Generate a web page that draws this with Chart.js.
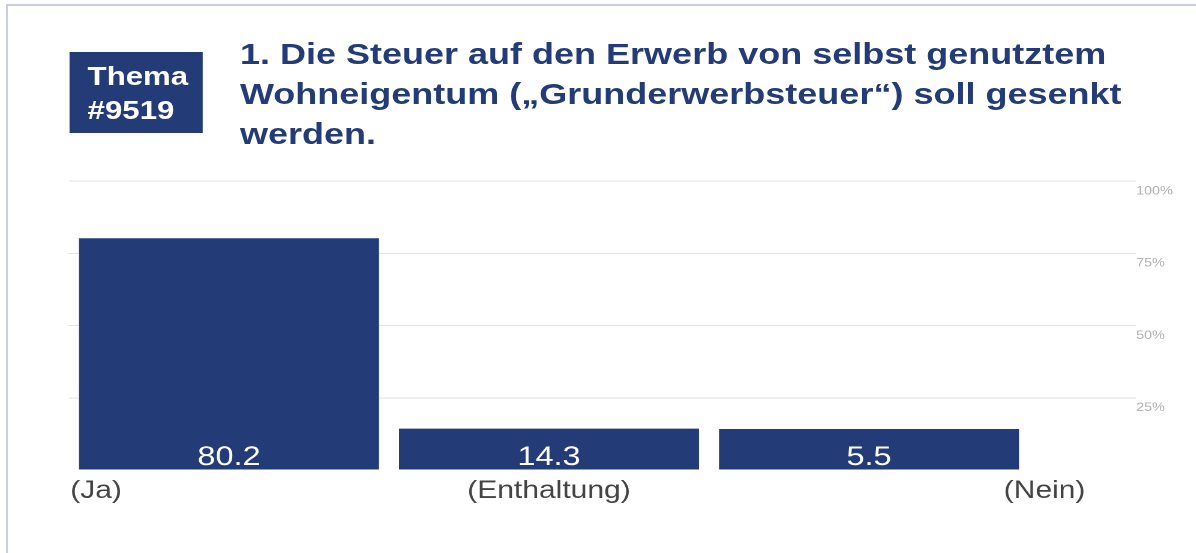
<!DOCTYPE html>
<html lang="de">
<head>
<meta charset="utf-8">
<script src="https://cdn.jsdelivr.net/npm/chart.js@4"></script>
<style>
  html, body { margin: 0; padding: 0; background: #fff; }
  body { width: 1196px; height: 553px; overflow: hidden; position: relative; font-family: "Liberation Sans", Arial, sans-serif; }
  .frame { position: absolute; left: 6px; top: 4px; right: 0; bottom: 0; border-left: 2px solid #c9cce2; border-top: 2px solid #c9cce2; }
  /* the reference is stretched horizontally, so everything sits in a scaled box */
  .stage { position: absolute; left: 0; top: 0; width: 997px; height: 553px; transform: scaleX(1.2); transform-origin: 0 0; }
  .badge { position: absolute; left: 58px; top: 52px; width: 111px; height: 81px; background: #233c78; color: #fff;
           font-weight: bold; font-size: 26px; line-height: 34px; box-sizing: border-box; padding: 7px 0 0 15px; }
  .title { position: absolute; left: 200px; top: 34px; color: #233c78; font-weight: bold; font-size: 30px; line-height: 40px; white-space: nowrap; }
  .chart-box { position: absolute; left: 0; top: 0; width: 997px; height: 553px; }
</style>
</head>
<body>
<div class="frame"></div>
<div class="stage">
  <div class="badge">Thema<br>#9519</div>
  <div class="title">1. Die Steuer auf den Erwerb von selbst genutztem<br>Wohneigentum („Grunderwerbsteuer“) soll gesenkt<br>werden.</div>
  <div class="chart-box"><canvas id="voteChart" width="997" height="553"></canvas></div>
</div>

<script>
// DATEN
const answers = ['(Ja)', '(Enthaltung)', '(Nein)'];
const shares = [80.2, 14.3, 5.5];
const shareTicks = [0, 25, 50, 75, 100];

const NAVY = '#233c78';

// Beschriftungen: Werte in den Balken, Antworten darunter
const labelPlugin = {
  id: 'voteLabels',
  afterDatasetsDraw(chart) {
    const ctx = chart.ctx;
    const meta = chart.getDatasetMeta(0);
    const area = chart.chartArea;
    ctx.save();

    ctx.fillStyle = '#ffffff';
    ctx.font = '27px "Liberation Sans", Arial, sans-serif';
    ctx.textAlign = 'center';
    ctx.textBaseline = 'alphabetic';
    meta.data.forEach((bar, i) => {
      ctx.fillText(shares[i].toFixed(1), bar.x, area.bottom - 5);
    });

    ctx.fillStyle = '#444444';
    ctx.font = '25px "Liberation Sans", Arial, sans-serif';
    const y = area.bottom + 28;
    ctx.textAlign = 'left';
    ctx.fillText(answers[0], area.left + 1, y);
    ctx.textAlign = 'center';
    ctx.fillText(answers[1], meta.data[1].x, y);
    ctx.textAlign = 'right';
    ctx.fillText(answers[2], area.right + 47, y);

    ctx.restore();
  }
};

new Chart(document.getElementById('voteChart'), {
  type: 'bar',
  data: {
    labels: answers,
    datasets: [{
      data: shares,
      backgroundColor: NAVY,
      borderWidth: 0,
      categoryPercentage: 1,
      barPercentage: 0.9375,
      minBarLength: 41
    }]
  },
  options: {
    responsive: false,
    animation: false,
    devicePixelRatio: 2,
    layout: { padding: { left: 57.5, top: 181, right: 0, bottom: 83 } },
    plugins: { legend: { display: false }, tooltip: { enabled: false } },
    scales: {
      x: { display: false },
      y: {
        position: 'right',
        min: 0,
        max: 100,
        afterBuildTicks(scale) { scale.ticks = shareTicks.map(v => ({ value: v })); },
        afterFit(scale) { scale.width = 139.5; },
        border: { display: false },
        grid: {
          color: c => c.tick && c.tick.value === 0 ? 'rgba(0,0,0,0)' : '#e3e3e3',
          lineWidth: 1,
          drawTicks: true,
          tickLength: 89.2
        },
        ticks: {
          padding: 0,
          labelOffset: 10,
          color: '#b0b0b0',
          font: { family: '"Liberation Sans", Arial, sans-serif', size: 12 },
          callback: v => v === 0 ? '' : v + '%'
        }
      }
    }
  },
  plugins: [labelPlugin]
});
</script>
</body>
</html>
